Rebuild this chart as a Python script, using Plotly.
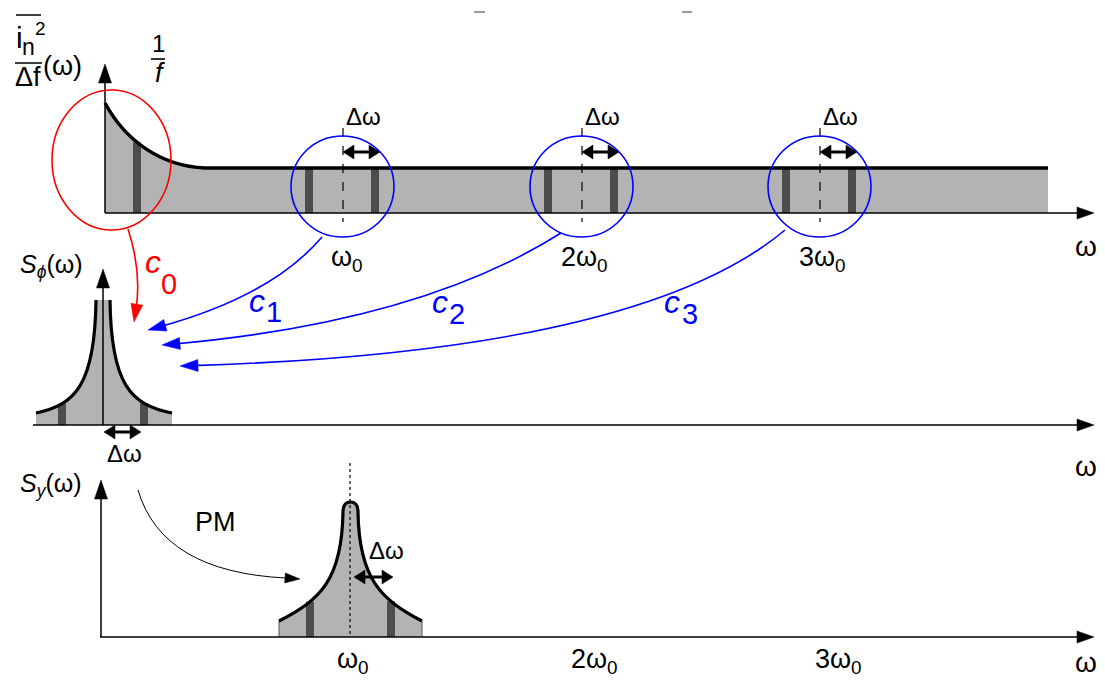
import numpy as np
import plotly.graph_objects as go

# ---------------- data (schematic) ----------------
W, H = 1105, 680
harmonic_labels = ["ω<sub>0</sub>", "2ω<sub>0</sub>", "3ω<sub>0</sub>"]
p1_omega = [343, 582, 820]          # harmonic positions, top spectrum
p1_label_x = [347, 584, 822]
p3_omega = [350, 591, 835]          # harmonic positions, bottom spectrum
coeff_names = ["0", "1", "2", "3"]
coeff_colors = ["#ff0000", "#0000ff", "#0000ff", "#0000ff"]
coeff_c_pos = [(153, 262), (257, 301), (440, 302), (672, 302)]
coeff_sub_pos = [(169, 284), (274, 312), (457, 314), (690, 314)]
# arrow paths (start, control, end) for the couplings c0..c3
coeff_paths = [
    [(128, 229), (142, 272), (134, 322)],
    [(322, 237), (272, 296), (148, 330)],
    [(561, 233), (420, 322), (162, 345)],
    [(785, 230), (640, 352), (180, 366)],
]
sideband_offset = 32
GRAY, DARK = "#b3b3b3", "#4d4d4d"
FONT = "Liberation Sans, Arial, sans-serif"

shapes, ann = [], []


def line(x0, y0, x1, y1, color="black", width=1.5, dash="solid"):
    shapes.append(dict(type="line", x0=x0, y0=y0, x1=x1, y1=y1, xref="x", yref="y",
                       line=dict(color=color, width=width, dash=dash)))


def path(d, fill=None, color="black", width=0):
    s = dict(type="path", path=d, xref="x", yref="y",
             line=dict(color=color, width=width))
    if fill:
        s["fillcolor"] = fill
    shapes.append(s)


def head(tip, direction, length=16, half=6, color="black"):
    tx, ty = tip
    dx, dy = direction
    n = np.hypot(dx, dy)
    dx, dy = dx / n, dy / n
    bx, by = tx - dx * length, ty - dy * length
    px, py = -dy * half, dx * half
    d = f"M {tx},{ty} L {bx+px},{by+py} L {bx-px},{by-py} Z"
    path(d, fill=color, color=color, width=0.5)


def text(x, y, t, size=22, color="black", italic=False, anchor="center"):
    if italic:
        t = f"<i>{t}</i>"
    ann.append(dict(x=x, y=y, xref="x", yref="y", text=t, showarrow=False,
                    font=dict(family=FONT, size=size, color=color),
                    xanchor=anchor, yanchor="middle"))


def bez_y_at(p0, p1, p2, p3, x):
    t = np.linspace(0, 1, 400)
    bx = (1-t)**3*p0[0] + 3*(1-t)**2*t*p1[0] + 3*(1-t)*t**2*p2[0] + t**3*p3[0]
    by = (1-t)**3*p0[1] + 3*(1-t)**2*t*p1[1] + 3*(1-t)*t**2*p2[1] + t**3*p3[1]
    order = np.argsort(bx)
    return float(np.interp(x, bx[order], by[order]))


def dbl_arrow(x0, x1, y):
    line(x0 + 8, y, x1 - 8, y, width=3)
    head((x0, y), (-1, 0), length=11, half=7)
    head((x1, y), (1, 0), length=11, half=7)


# ---------------- panel 1 : noise current spectrum ----------------
b1, top1 = 213, 168
fx0, fx1 = 105, 1048
c1 = [(105, 103), (125, 140), (160, 166), (205, 168)]
path(f"M 105,{b1} L 105,103 C 125,140 160,166 205,168 L {fx1},{top1} L {fx1},{b1} Z",
     fill=GRAY, color=GRAY, width=0)
bars1 = [137] + [w + s for w in p1_omega for s in (-sideband_offset - 2, sideband_offset)]
for bx in bars1:
    ytop = bez_y_at(*c1, bx) if bx < 205 else top1
    shapes.append(dict(type="rect", x0=bx - 4, x1=bx + 4, y0=ytop, y1=b1, xref="x", yref="y",
                       fillcolor=DARK, line=dict(width=0)))
path("M 105,103 C 125,140 160,166 205,168 L 1048,168", color="black", width=3.5)
line(105, b1, 1080, b1, width=1.5)
head((1094, b1), (1, 0), length=17, half=6)
line(105, b1, 105, 80, width=1.5)
head((105, 64), (0, -1), length=19, half=6.5)
for w, lx, lab in zip(p1_omega, p1_label_x, harmonic_labels):
    line(w, 128, w, 222, width=1.2, dash="dash")
    dbl_arrow(w, w + 37, 152)
    text(w + 20, 116, "Δω", size=24)
    text(lx, 259, lab, size=27)
    shapes.append(dict(type="circle", x0=w - 52, x1=w + 51, y0=136, y1=237, xref="x", yref="y",
                       line=dict(color="#0000ff", width=1.6)))
shapes.append(dict(type="circle", x0=52, x1=171, y0=90, y1=230, xref="x", yref="y",
                   line=dict(color="#ff0000", width=1.6)))
text(1086, 246, "ω", size=28)

# y-label: overline(i_n^2)/Δf (ω)
text(14, 37, "i", size=30, anchor="left")
text(20, 47, "n", size=23, anchor="left")
text(33, 28, "2", size=19, anchor="left")
line(16, 15, 41, 15, width=1.5)
line(15, 63, 42, 63, width=1.5)
text(13, 77, "Δf", size=27, anchor="left")
text(41, 66, "(ω)", size=27, anchor="left")
# 1/f label
text(158, 43, "1", size=24)
line(151, 59, 165, 59, width=1.6)
text(160, 73, "f", size=27, italic=True)

# ---------------- panel 2 : phase noise ----------------
b2 = 425
L2 = [(96, 300), (95, 385), (75, 405), (36, 413)]
R2 = [(110, 300), (111, 385), (131, 405), (172, 413)]
path(f"M 36,{b2} L 36,413 C 75,405 95,385 96,300 L 110,300 C 111,385 131,405 172,413 L 172,{b2} Z",
     fill=GRAY, color=GRAY, width=0)
for bx in (62, 144):
    ytop = bez_y_at(*(L2 if bx < 103 else R2), bx)
    shapes.append(dict(type="rect", x0=bx - 4, x1=bx + 4, y0=ytop, y1=b2, xref="x", yref="y",
                       fillcolor=DARK, line=dict(width=0)))
path("M 36,413 C 75,405 95,385 96,300", color="black", width=3.2)
path("M 110,300 C 111,385 131,405 172,413", color="black", width=3.2)
line(33, b2, 1080, b2, width=1.5)
head((1094, b2), (1, 0), length=17, half=6)
line(103, b2, 103, 285, width=1.5)
head((103, 269), (0, -1), length=19, half=6.5)
dbl_arrow(104, 141, 432)
text(124, 453, "Δω", size=24)
text(18, 266, "<i>S</i><sub><i>ϕ</i></sub>(ω)", size=25, anchor="left")
text(1086, 466, "ω", size=28)

# ---------------- couplings c0..c3 ----------------
for (p0, pc, p2), col, nm, cp, sp in zip(coeff_paths, coeff_colors, coeff_names,
                                         coeff_c_pos, coeff_sub_pos):
    dx, dy = p2[0] - pc[0], p2[1] - pc[1]
    n = np.hypot(dx, dy)
    endx, endy = p2[0] - dx / n * 12, p2[1] - dy / n * 12
    path(f"M {p0[0]},{p0[1]} Q {pc[0]},{pc[1]} {endx},{endy}", color=col, width=1.6)
    head(p2, (dx, dy), length=18, half=6, color=col)
    text(cp[0], cp[1], "c", size=32, color=col, italic=True)
    text(sp[0], sp[1], nm, size=29, color=col)

# ---------------- panel 3 : output spectrum ----------------
b3 = 637
w0 = p3_omega[0]
L3 = [(279, 621), (320, 600), (342, 580), (343, 512)]
R3 = [(358, 512), (359, 580), (382, 600), (422, 621)]
peak = ("M 279,621 C 320,600 342,580 343,512 Q 343,502 350.5,502 Q 358,502 358,512 "
        "C 359,580 382,600 422,621")
path(peak + f" L 422,{b3} L 279,{b3} Z", fill=GRAY, color=GRAY, width=0)
for bx in (310, 391):
    ytop = bez_y_at(*(L3 if bx < w0 else R3), bx)
    shapes.append(dict(type="rect", x0=bx - 4, x1=bx + 4, y0=ytop, y1=b3, xref="x", yref="y",
                       fillcolor=DARK, line=dict(width=0)))
line(279, 621, 279, b3, color="#555555", width=1)
line(422, 621, 422, b3, color="#555555", width=1)
path(peak, color="black", width=3.2)
line(w0, 463, w0, b3, width=1.2, dash="dot")
line(100, b3, 1080, b3, width=1.5)
head((1094, b3), (1, 0), length=17, half=6)
line(101, b3, 101, 496, width=1.5)
head((101, 480), (0, -1), length=19, half=6.5)
dbl_arrow(354, 393, 577)
text(386, 550, "Δω", size=24)
for w, lab in zip(p3_omega, harmonic_labels):
    text(w + 3, 661, lab, size=27)
text(1086, 662, "ω", size=28)
text(18, 485, "<i>S</i><sub><i>y</i></sub>(ω)", size=25, anchor="left")
# PM arrow
path("M 138,490 Q 162,572 286,578", color="black", width=1)
head((300, 579), (14, 1), length=15, half=5)
text(215, 522, "PM", size=27)

# stray marks at the top of the picture
line(474, 12, 485, 12, color="#555555", width=1.2)
line(682, 12, 692, 12, color="#555555", width=1.2)

fig = go.Figure()
fig.add_trace(go.Scatter(x=[0, W], y=[0, H], mode="markers", marker=dict(opacity=0),
                         hoverinfo="skip", showlegend=False))
fig.update_layout(width=W, height=H, margin=dict(l=0, r=0, t=0, b=0),
                  paper_bgcolor="white", plot_bgcolor="white",
                  xaxis=dict(range=[0, W], visible=False, fixedrange=True),
                  yaxis=dict(range=[H, 0], visible=False, fixedrange=True),
                  shapes=shapes, annotations=ann, showlegend=False)
fig.write_html("out.html", config={"displayModeBar": False},
               post_script="document.body.style.margin='0';document.body.style.overflow='hidden';")
